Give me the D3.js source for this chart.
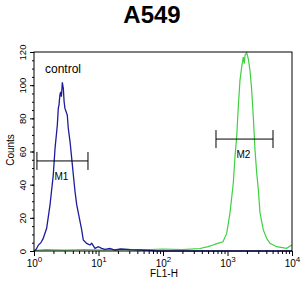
<!DOCTYPE html>
<html>
<head>
<meta charset="utf-8">
<script src="https://cdn.jsdelivr.net/npm/d3@7"></script>
<style>
  body { margin: 0; background: #fff; }
  svg { display: block; font-family: "Liberation Sans", Arial, sans-serif; }
</style>
</head>
<body>
<svg width="305" height="296"></svg>
<script>
// chart text
const title = "A549";
const xLabel = "FL1-H";
const yLabel = "Counts";
const controlLabel = "control";

// tick values
const xTicks = [1, 10, 100, 1000, 10000];
const xTickExp = ["0", "1", "2", "3", "4"];
const yTicks = [0, 20, 40, 60, 80, 100, 120];

// control histogram (blue): FL1-H value, count
const controlFl = [1.0, 1.08, 1.17, 1.28, 1.39, 1.57, 1.77, 1.99, 2.12, 2.30, 2.38, 2.44, 2.52, 2.59, 2.66, 2.75, 2.85, 2.93, 3.02, 3.15, 3.28, 3.40, 3.62, 3.84, 4.07, 4.32, 4.59, 5.04, 5.49, 5.81, 6.56, 7.38, 7.85, 8.83, 9.93, 11.2, 12.6, 15, 18, 22, 31, 45, 63, 80, 10000];
const controlCount = [0, 1, 3.6, 5, 7.6, 13.7, 27.7, 45.8, 62, 76, 86, 88, 94, 96, 93, 101.7, 98, 90, 86, 84, 82, 74, 66, 56, 46, 36, 28, 20, 12.7, 6.6, 4.6, 3.6, 4.6, 1.6, 2.6, 1.6, 1, 1.5, 0.6, 1.2, 0.8, 0.6, 0.4, 0, 0];

// sample histogram (green): FL1-H value, count
const sampleFl = [1, 1.5, 3, 6, 12, 25, 50, 100, 200, 375, 500, 596, 700, 851, 972, 1093, 1230, 1307, 1389, 1470, 1562, 1660, 1757, 1820, 1868, 1985, 2100, 2232, 2372, 2512, 2669, 2836, 3006, 3194, 3593, 4052, 4558, 5794, 8276, 9894];
const sampleCount = [0.3, 0.8, 0.5, 0.9, 0.6, 1.0, 0.7, 1.2, 0.8, 1.5, 2.6, 3.6, 4.6, 5.6, 10.6, 23, 41, 57, 69, 87, 103, 111, 117, 113, 118, 119.6, 116, 109, 97, 81, 61, 47, 37, 23, 12.7, 7.6, 4.6, 2.6, 1.6, 3.6];

// gate markers
const markerNames = ["M1", "M2"];
const markerLo = [1.11, 663];
const markerHi = [6.87, 5075];
const markerLevel = [54.3, 67.5];

const margin = { top: 52, right: 13, bottom: 45, left: 34 };
const width = 305 - margin.left - margin.right;
const height = 296 - margin.top - margin.bottom;

const x = d3.scaleLog().domain([1, 10000]).range([0, width]);
const y = d3.scaleLinear().domain([0, 120]).range([height, 0]);

const svg = d3.select("svg");
const g = svg.append("g")
  .attr("transform", "translate(" + margin.left + "," + margin.top + ")");

// title
svg.append("text")
  .attr("x", 152)
  .attr("y", 23)
  .attr("text-anchor", "middle")
  .attr("font-size", 24)
  .attr("font-weight", "bold")
  .text(title);

// histograms
const line = d3.line()
  .x(d => x(d[0]))
  .y(d => y(d[1]));

g.append("path")
  .datum(sampleFl.map((v, i) => [v, sampleCount[i]]))
  .attr("fill", "none")
  .attr("stroke", "#3fd03f")
  .attr("stroke-width", 1.2)
  .attr("d", line);

g.append("path")
  .datum(controlFl.map((v, i) => [v, controlCount[i]]))
  .attr("fill", "none")
  .attr("stroke", "#1c1c9c")
  .attr("stroke-width", 1.3)
  .attr("d", line);

// frame
g.append("rect")
  .attr("width", width)
  .attr("height", height)
  .attr("fill", "none")
  .attr("stroke", "#000")
  .attr("stroke-width", 1);

// x axis: major and minor log ticks
const xMinor = [];
for (let p = 0; p < 4; p++) {
  for (let k = 2; k < 10; k++) xMinor.push(k * Math.pow(10, p));
}
g.append("g")
  .attr("transform", "translate(0," + height + ")")
  .call(d3.axisBottom(x).tickValues(xMinor).tickSize(3).tickFormat(""))
  .call(a => a.select(".domain").remove());
const xAxis = g.append("g")
  .attr("transform", "translate(0," + height + ")")
  .call(d3.axisBottom(x).tickValues(xTicks).tickSize(5).tickFormat(""))
  .call(a => a.select(".domain").remove());

xAxis.selectAll(".tick").each(function(d, i) {
  const t = d3.select(this).append("text")
    .attr("fill", "#000")
    .attr("y", 16)
    .attr("font-size", 10)
    .attr("text-anchor", "middle");
  t.append("tspan").text("10");
  t.append("tspan")
    .attr("dy", -5)
    .attr("font-size", 8)
    .text(xTickExp[i]);
});

// y axis: major and minor ticks
g.append("g")
  .call(d3.axisLeft(y).tickValues(d3.range(0, 121, 5)).tickSize(2).tickFormat(""))
  .call(a => a.select(".domain").remove());
const yAxis = g.append("g")
  .call(d3.axisLeft(y).tickValues(yTicks).tickSize(4).tickFormat(""))
  .call(a => a.select(".domain").remove());

yAxis.selectAll(".tick").append("text")
  .attr("fill", "#000")
  .attr("transform", "rotate(-90)")
  .attr("x", 0)
  .attr("y", -8)
  .attr("font-size", 9.5)
  .attr("text-anchor", "middle")
  .text(d => d);

// axis labels
svg.append("text")
  .attr("x", margin.left + x(100) + 1)
  .attr("y", 277)
  .attr("text-anchor", "middle")
  .attr("font-size", 10)
  .text(xLabel);

svg.append("text")
  .attr("transform", "translate(14,150) rotate(-90)")
  .attr("text-anchor", "middle")
  .attr("font-size", 10)
  .text(yLabel);

// control label
g.append("text")
  .attr("x", 11)
  .attr("y", 21)
  .attr("font-size", 12)
  .text(controlLabel);

// gate markers
const markers = g.selectAll(".marker")
  .data(markerNames.map((n, i) => ({ name: n, lo: markerLo[i], hi: markerHi[i], level: markerLevel[i] })))
  .enter()
  .append("g")
  .attr("class", "marker");

markers.append("line")
  .attr("x1", d => x(d.lo))
  .attr("x2", d => x(d.hi))
  .attr("y1", d => y(d.level))
  .attr("y2", d => y(d.level))
  .attr("stroke", "#000");
markers.append("line")
  .attr("x1", d => x(d.lo))
  .attr("x2", d => x(d.lo))
  .attr("y1", d => y(d.level) - 9)
  .attr("y2", d => y(d.level) + 9)
  .attr("stroke", "#000");
markers.append("line")
  .attr("x1", d => x(d.hi))
  .attr("x2", d => x(d.hi))
  .attr("y1", d => y(d.level) - 9)
  .attr("y2", d => y(d.level) + 9)
  .attr("stroke", "#000");
markers.append("text")
  .attr("x", d => (x(d.lo) + x(d.hi)) / 2 - 1)
  .attr("y", d => y(d.level) + 19)
  .attr("text-anchor", "middle")
  .attr("font-size", 10)
  .text(d => d.name);
</script>
</body>
</html>
